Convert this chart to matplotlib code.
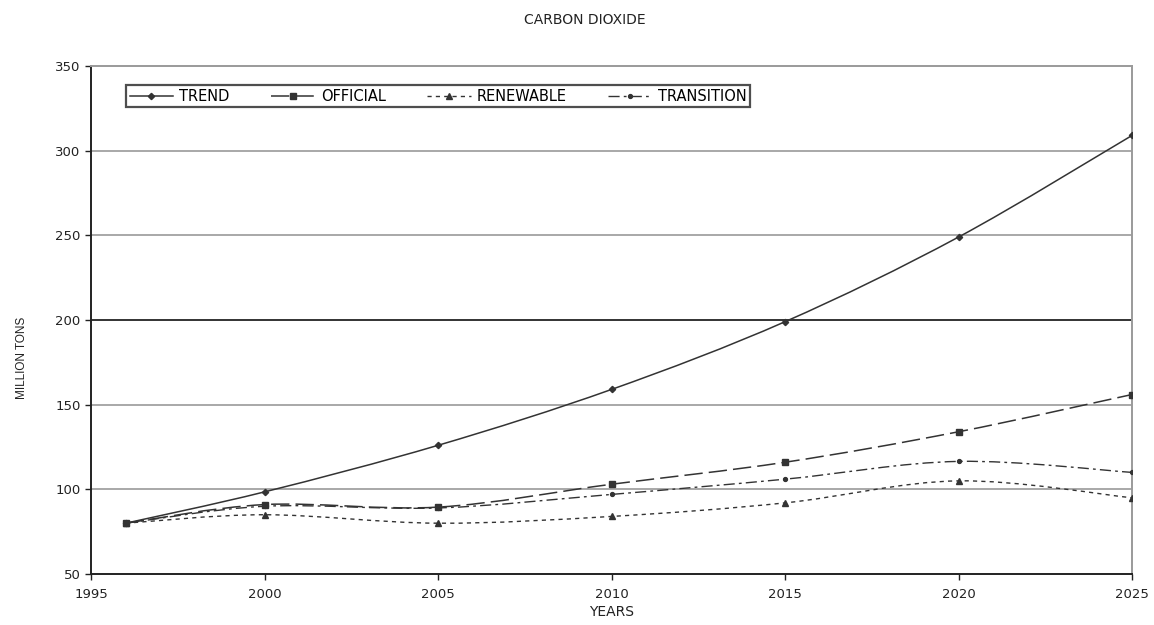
import matplotlib
matplotlib.use("Agg")
import matplotlib.pyplot as plt
from matplotlib.path import Path
from matplotlib.patches import PathPatch
from matplotlib.lines import Line2D

plt.rcParams['font.family'] = ['DejaVu Sans']

years = [1996, 2000, 2005, 2010, 2015, 2020, 2025]
trend = [80, 98.5, 126, 159, 199, 249, 309]
official = [80, 91, 89.5, 103, 116, 134, 156]
renewable = [80, 85, 80, 84, 92, 105, 95]
transition = [80, 90, 89, 97, 106, 116.5, 110]

x_ticks = [1995, 2000, 2005, 2010, 2015, 2020, 2025]
y_ticks = [50, 100, 150, 200, 250, 300, 350]


def smooth_path(xs, ys):
    # Bezier path through the data points (Excel-style smoothed line rendering)
    pts = list(zip(xs, ys))
    verts = [pts[0]]
    codes = [Path.MOVETO]
    n = len(pts)
    for i in range(n - 1):
        p0 = pts[i - 1] if i > 0 else pts[i]
        p1 = pts[i]
        p2 = pts[i + 1]
        p3 = pts[i + 2] if i + 2 < n else pts[i + 1]
        c1 = (p1[0] + (p2[0] - p0[0]) / 6, p1[1] + (p2[1] - p0[1]) / 6)
        c2 = (p2[0] - (p3[0] - p1[0]) / 6, p2[1] - (p3[1] - p1[1]) / 6)
        verts += [c1, c2, p2]
        codes += [Path.CURVE4] * 3
    return Path(verts, codes)


fig = plt.figure(figsize=(11.54, 6.25), dpi=100)
ax = fig.add_axes([0.0789, 0.0816, 0.9021, 0.8128])

for yv in y_ticks[1:-1]:
    ax.axhline(yv, color='#111111' if yv == 200 else '#9a9a9a', lw=1.2, zorder=1)

c = '#333333'
series = [
    ('TREND', trend, 'D', 3.2, '-', 1.1),
    ('OFFICIAL', official, 's', 4.2, (0, (12, 4)), 1.1),
    ('RENEWABLE', renewable, '^', 4.0, (0, (3, 3)), 1.0),
    ('TRANSITION', transition, 'o', 2.8, (0, (8, 3, 2, 3)), 1.0),
]
handles = []
for name, vals, mk, ms, ls, lw in series:
    patch = PathPatch(smooth_path(years, vals), facecolor='none', edgecolor=c,
                      lw=lw, linestyle=ls, zorder=3)
    ax.add_patch(patch)
    ax.plot(years, vals, linestyle='none', marker=mk, ms=ms, color=c, zorder=4)
    handles.append(Line2D([], [], color=c, lw=lw, linestyle=ls, marker=mk, ms=ms, label=name))

ax.set_xlim(1995, 2025)
ax.set_ylim(50, 350)
ax.set_xticks(x_ticks)
ax.set_yticks(y_ticks)
ax.tick_params(axis='both', labelsize=9.5, colors='#222222', length=4, width=1.0, direction='out')
ax.tick_params(axis='x', pad=6)
for s in ['left', 'bottom']:
    ax.spines[s].set_color('#222222')
    ax.spines[s].set_linewidth(1.4)
for s in ['right', 'top']:
    ax.spines[s].set_color('#9a9a9a')
    ax.spines[s].set_linewidth(1.4)

ax.set_xlabel('YEARS', fontsize=10, labelpad=3, color='#222222')
ax.set_ylabel('MILLION TONS', fontsize=8.5, color='#222222', family='Liberation Sans')
ax.yaxis.set_label_coords(-0.061, 0.425)
fig.text(0.507, 0.968, 'CARBON DIOXIDE', ha='center', va='center', fontsize=10, color='#222222')

leg = ax.legend(handles=handles, loc='upper left', bbox_to_anchor=(0.0265, 0.977), ncol=4,
                fontsize=10.5, frameon=True, fancybox=False, edgecolor='#222222',
                handlelength=3.0, handletextpad=0.4, columnspacing=2.85, borderpad=0.25)
leg.get_frame().set_linewidth(1.6)

fig.savefig('out.png', dpi=100)
